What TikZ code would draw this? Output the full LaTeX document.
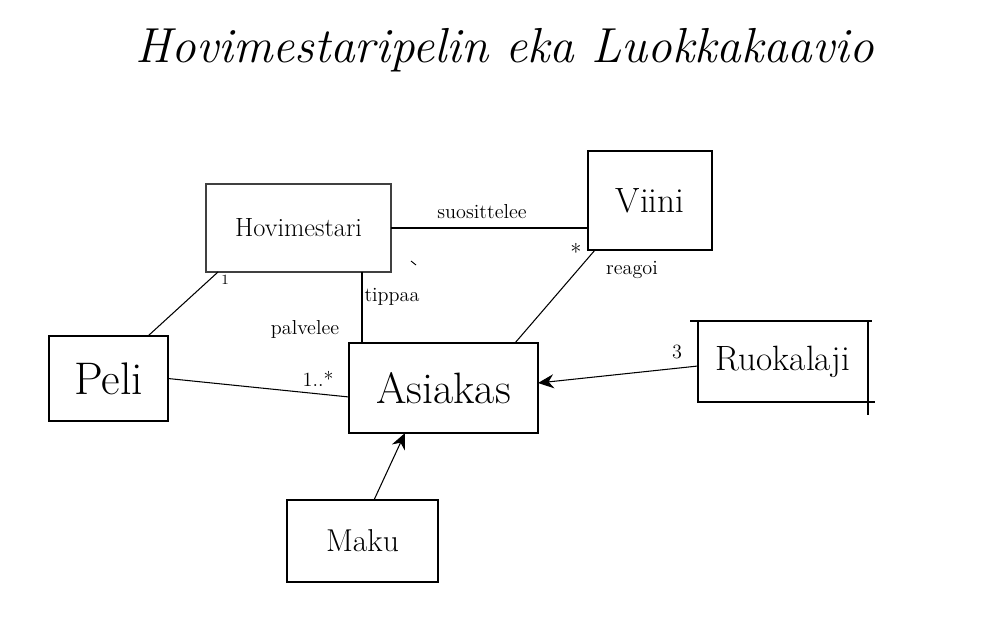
\documentclass[tikz,border=0pt]{standalone}
\usetikzlibrary{arrows.meta,calc}
\begin{document}
\begin{tikzpicture}[x=0.02cm,y=-0.02cm,
  box/.style={draw=black,line width=1.1pt,inner sep=0pt,outer sep=0pt},
  thinbox/.style={draw=black!75,line width=0.6pt,inner sep=0pt,outer sep=0pt},
  conn/.style={draw=black,line width=0.6pt},
  arr/.style={conn,-{Stealth[length=9pt,width=8pt]}},
  lbl/.style={font=\fontsize{11.5}{11.5}\selectfont,inner sep=1pt}]
\useasboundingbox (0,0) rectangle (1000,642);
\node[font=\fontsize{28}{28}\selectfont\itshape] (title) at (505,50) {Hovimestaripelin eka Luokkakaavio};
\node[thinbox,minimum width=3.7cm,minimum height=1.76cm,font=\fontsize{15}{15}\selectfont] (hov) at (298.5,228) {Hovimestari};
\node[box,minimum width=2.48cm,minimum height=1.98cm,font=\fontsize{20}{20}\selectfont] (viini) at (650,200.5) {Viini};
\node[box,minimum width=2.38cm,minimum height=1.7cm,font=\fontsize{26}{26}\selectfont] (peli) at (108.5,378.5) {Peli};
\node[box,minimum width=3.78cm,minimum height=1.8cm,font=\fontsize{25}{25}\selectfont] (asi) at (443.5,388) {Asiakas};
\node[box,minimum width=3.4cm,minimum height=1.62cm,font=\fontsize{20}{20}\selectfont] (ruok) at (783,361.5) {Ruokalaji};
\node[box,minimum width=3.02cm,minimum height=1.64cm,font=\fontsize{18}{18}\selectfont] (maku) at (362.5,541) {Maku};
% overshoot strokes of Ruokalaji box
\draw[line width=1.1pt] ([xshift=-0.16cm]ruok.north west) -- (ruok.north west);
\draw[line width=1.1pt] ([xshift=0.08cm]ruok.north east) -- (ruok.north east);
\draw[line width=1.1pt] (ruok.south east) -- ([yshift=-0.26cm]ruok.south east);
\draw[line width=1.1pt] (ruok.south east) -- ([xshift=0.14cm]ruok.south east);
% connectors
\draw[conn] (hov.east) -- (hov.east -| viini.west);
\draw[conn,line width=1.1pt] ([xshift=1.27cm]hov.south) -- ([xshift=1.27cm]hov.south |- asi.north);
\draw[conn] ([xshift=0.24cm]hov.south west) -- ([xshift=0.79cm]peli.north);
\draw[conn] ([xshift=0.14cm]viini.south west) -- ([xshift=-0.46cm]asi.north east);
\draw[conn] (peli.east) -- ([yshift=-0.18cm]asi.west);
\draw[arr] ([yshift=-0.09cm]ruok.west) -- ([yshift=0.1cm]asi.east);
\draw[arr] ([xshift=0.23cm]maku.north) -- ([xshift=-0.77cm]asi.south);
\draw[line width=0.5pt] (411,261) -- (416,265);
% labels
\node[lbl] (l2) at (392,297) {tippaa};
\node[lbl] (l1) at (482,212) {suosittelee};
\node[lbl] (l3) at (305,329) {palvelee};
\node[lbl,font=\fontsize{8}{8}\selectfont] (l4) at (225,280) {1};
\node[lbl,font=\fontsize{13}{13}\selectfont] (l5) at (576,252) {*};
\node[lbl] (l6) at (632,270) {reagoi};
\node[lbl] (l7) at (318,379) {1..*};
\node[lbl] (l8) at (677,352) {3};
\end{tikzpicture}
\end{document}
